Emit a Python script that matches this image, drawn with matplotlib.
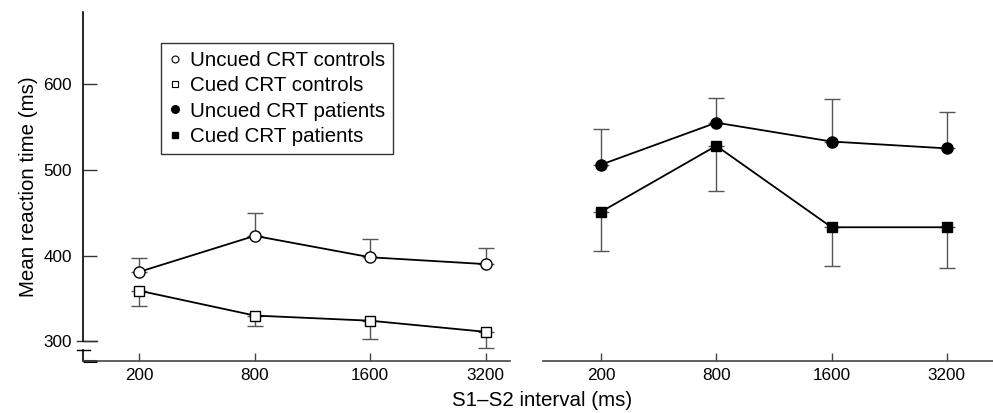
import matplotlib
matplotlib.use("Agg")
import matplotlib.pyplot as plt
from matplotlib.lines import Line2D
import matplotlib.transforms as mtransforms

plt.rcParams['font.family'] = ['Liberation Sans', 'DejaVu Sans']

intervals = ['200', '800', '1600', '3200']
uncued_controls = [381, 423, 398, 390]
uncued_controls_err = [16, 27, 21, 19]
cued_controls = [359, 330, 324, 311]
cued_controls_err = [18, 12, 21, 19]
uncued_patients = [506, 555, 533, 525]
uncued_patients_err = [42, 29, 50, 42]
cued_patients = [451, 528, 433, 433]
cued_patients_err = [46, 53, 45, 48]
y_ticks = [300, 400, 500, 600]

W, H = 993, 413
fig = plt.figure(figsize=(W / 100, H / 100), dpi=100)
ax1 = fig.add_axes([83 / W, 1 - 361 / H, (510 - 83) / W, (361 - 12) / H])
ax2 = fig.add_axes([543 / W, 1 - 361 / H, (993 - 543) / W, (361 - 12) / H])

ylim = (277.0, 684.1)
xpos = list(range(len(intervals)))
err_color = '#555555'
line_kw = dict(color='black', lw=1.3, zorder=3)


def draw(ax, vals, errs, up, marker, filled):
    lower = [0] * len(errs)
    yerr = [lower, errs] if up else [errs, lower]
    ax.errorbar(xpos, vals, yerr=yerr, fmt='none', ecolor=err_color,
                elinewidth=1.0, capsize=6, capthick=1.0, zorder=2)
    ax.plot(xpos, vals, marker=marker, markersize=8 if marker == 'o' else 7.5,
            markerfacecolor='black' if filled else 'white',
            markeredgecolor='black', markeredgewidth=1.0, **line_kw)


draw(ax1, uncued_controls, uncued_controls_err, True, 'o', False)
draw(ax1, cued_controls, cued_controls_err, False, 's', False)
draw(ax2, uncued_patients, uncued_patients_err, True, 'o', True)
draw(ax2, cued_patients, cued_patients_err, False, 's', True)

for ax in (ax1, ax2):
    ax.set_ylim(*ylim)
    ax.set_xticks(xpos)
    ax.set_xticklabels(intervals, fontsize=12.3)
    ax.spines['top'].set_visible(False)
    ax.spines['right'].set_visible(False)
    ax.spines['bottom'].set_color('#444444')
    ax.spines['bottom'].set_linewidth(1.2)
    ax.tick_params(axis='x', direction='in', length=6, width=1.0,
                   color='#444444', pad=5)
    ax.patch.set_visible(False)

ax1.set_xlim(-0.487, 3.21)
ax2.set_xlim(-0.503, 3.40)

# left panel y axis
ax1.set_yticks(y_ticks)
ax1.set_yticklabels([str(v) for v in y_ticks], fontsize=12.3)
ax1.tick_params(axis='y', direction='in', length=10, width=1.0,
                color='#333333', pad=8)
ax1.spines['left'].set_bounds(300, ylim[1])
ax1.spines['left'].set_linewidth(1.2)
ax1.set_ylabel('Mean reaction time (ms)', fontsize=14.8, labelpad=4)

# axis break
brk = 289.8
trans = mtransforms.blended_transform_factory(ax1.transAxes, ax1.transData)
ax1.plot([0, 0], [ylim[0], brk], color='black', lw=1.2, transform=trans,
         clip_on=False)
px = 1 / (510 - 83)
ax1.plot([-6 * px, 14 * px], [300, 300], color='#333333', lw=1.0,
         transform=trans, clip_on=False)
ax1.plot([-6 * px, 7 * px], [brk, brk], color='black', lw=1.0,
         transform=trans, clip_on=False)
ax1.plot([0, 14 * px], [ylim[0], ylim[0]], color='black', lw=2.2,
         transform=trans, clip_on=False, solid_capstyle='butt')

# right panel: no y axis
ax2.spines['left'].set_visible(False)
ax2.set_yticks([])

fig.text(542 / W, 1 - 401 / H, 'S1\u2013S2 interval (ms)', fontsize=14.8,
         ha='center', va='center')

handles = [
    Line2D([], [], ls='none', marker='o', markersize=5, markerfacecolor='white',
           markeredgecolor='black', markeredgewidth=0.8),
    Line2D([], [], ls='none', marker='s', markersize=5, markerfacecolor='white',
           markeredgecolor='black', markeredgewidth=0.8),
    Line2D([], [], ls='none', marker='o', markersize=5.5, markerfacecolor='black',
           markeredgecolor='black'),
    Line2D([], [], ls='none', marker='s', markersize=5, markerfacecolor='black',
           markeredgecolor='black'),
]
labels = ['Uncued CRT controls', 'Cued CRT controls', 'Uncued CRT patients',
          'Cued CRT patients']
leg = fig.legend(handles, labels, loc='upper left',
                 bbox_to_anchor=(161 / W, 1 - 42.7 / H), fontsize=14.8,
                 frameon=True, fancybox=False, framealpha=1, edgecolor='#333333',
                 handlelength=0.6, handletextpad=0.4, labelspacing=0.31,
                 borderpad=0.4, borderaxespad=0)
leg.get_frame().set_linewidth(1.0)

fig.savefig('out.png', dpi=100)
